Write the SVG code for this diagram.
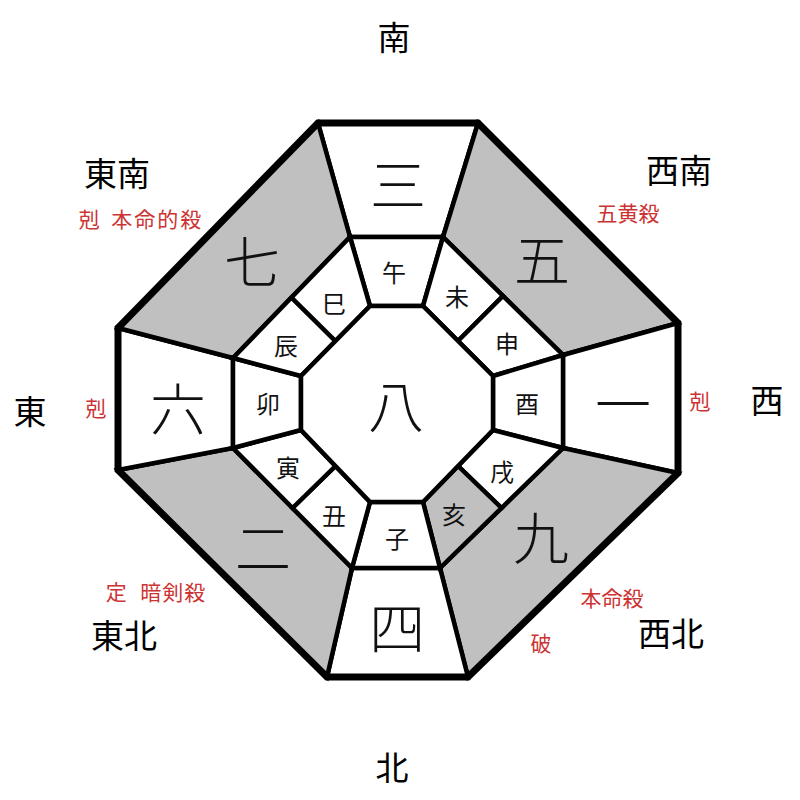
<svg xmlns="http://www.w3.org/2000/svg" width="800" height="800" viewBox="0 0 800 800">
<style>
.cell{fill:#ffffff;stroke:#000;stroke-width:4.5;stroke-linejoin:miter}
.gray{fill:#c0c0c0}
.outer{fill:none;stroke:#000;stroke-width:7;stroke-linejoin:miter}
text{font-family:"Noto Sans CJK JP","Noto Sans CJK SC",sans-serif;text-anchor:middle;dominant-baseline:central}
.dir{font-size:33px;fill:#000}
.red{font-size:21px;fill:#cc3333}
.big{font-size:56px;fill:#111;font-weight:300}
.zod{font-size:24px;fill:#111}
</style>
<rect width="800" height="800" fill="#fff"/>
<g id="sector-south"><polygon class="cell" points="318,123 478,123 443,237 350,237"/><text class="big" x="398" y="181">三</text></g>
<g id="sector-southwest"><polygon class="cell gray" points="478,123 678,323 563,355 443,237"/><text class="big" x="542" y="256">五</text></g>
<g id="sector-west"><polygon class="cell" points="678,323 678,473 563,448 563,355"/><text class="big" x="623" y="400">一</text></g>
<g id="sector-northwest"><polygon class="cell gray" points="678,473 468,677 440,568 563,448"/><text class="big" x="541" y="534">九</text></g>
<g id="sector-north"><polygon class="cell" points="468,677 327,677 352,568 440,568"/><text class="big" x="397" y="624">四</text></g>
<g id="sector-northeast"><polygon class="cell gray" points="327,677 118,470 233,448 352,568"/><text class="big" x="263" y="544">二</text></g>
<g id="sector-east"><polygon class="cell" points="118,470 118,328 233,358 233,448"/><text class="big" x="178" y="405">六</text></g>
<g id="sector-southeast"><polygon class="cell gray" points="118,328 318,123 350,237 233,358"/><text class="big" x="252" y="258">七</text></g>

<g id="z-uma"><polygon class="cell" points="350,237 443,237 423,306 370,306"/><text class="zod" x="394" y="271">午</text></g>
<g id="z-hitsuji"><polygon class="cell" points="443,237 503,296 458,341 423,306"/><text class="zod" x="457" y="295">未</text></g>
<g id="z-saru"><polygon class="cell" points="503,296 563,355 493,376 458,341"/><text class="zod" x="507" y="342">申</text></g>
<g id="z-tori"><polygon class="cell" points="563,355 563,448 493,430 493,376"/><text class="zod" x="527" y="402">酉</text></g>
<g id="z-inu"><polygon class="cell" points="563,448 501.5,508 458,466 493,430"/><text class="zod" x="502" y="470">戌</text></g>
<g id="z-i"><polygon class="cell gray" points="501.5,508 440,568 423,502 458,466"/><text class="zod" x="454" y="513">亥</text></g>
<g id="z-ne"><polygon class="cell" points="440,568 352,568 370,502 423,502"/><text class="zod" x="397" y="537">子</text></g>
<g id="z-ushi"><polygon class="cell" points="352,568 292.5,508 335.5,466 370,502"/><text class="zod" x="334" y="514">丑</text></g>
<g id="z-tora"><polygon class="cell" points="292.5,508 233,448 301,430 335.5,466"/><text class="zod" x="288" y="466">寅</text></g>
<g id="z-u"><polygon class="cell" points="233,448 233,358 301,376 301,430"/><text class="zod" x="268" y="402">卯</text></g>
<g id="z-tatsu"><polygon class="cell" points="233,358 291.5,297.5 335.5,341 301,376"/><text class="zod" x="286" y="344">辰</text></g>
<g id="z-mi"><polygon class="cell" points="291.5,297.5 350,237 370,306 335.5,341"/><text class="zod" x="334" y="302">巳</text></g>

<g id="center"><polygon class="cell" points="370,306 423,306 493,376 493,430 423,502 370,502 301,430 301,376"/><text class="big" x="396" y="402">八</text></g>

<g id="connectors"><polygon class="outer" points="318,123 478,123 678,323 678,473 468,677 327,677 118,470 118,328"/></g>

<g id="labels">
<text class="dir" x="394" y="36">南</text>
<text class="dir" x="117" y="172">東南</text>
<text class="dir" x="679" y="169">西南</text>
<text class="dir" x="30" y="410">東</text>
<text class="dir" x="767" y="399">西</text>
<text class="dir" x="124" y="634">東北</text>
<text class="dir" x="671" y="632">西北</text>
<text class="dir" x="392" y="766">北</text>
<text class="red" x="141" y="218" letter-spacing="2" word-spacing="3">剋 本命的殺</text>
<text class="red" x="628" y="212">五黄殺</text>
<text class="red" x="96" y="407">剋</text>
<text class="red" x="700" y="400">剋</text>
<text class="red" x="156" y="591" letter-spacing="1" word-spacing="7">定 暗剣殺</text>
<text class="red" x="612" y="597">本命殺</text>
<text class="red" x="541" y="642">破</text>
</g>
</svg>
